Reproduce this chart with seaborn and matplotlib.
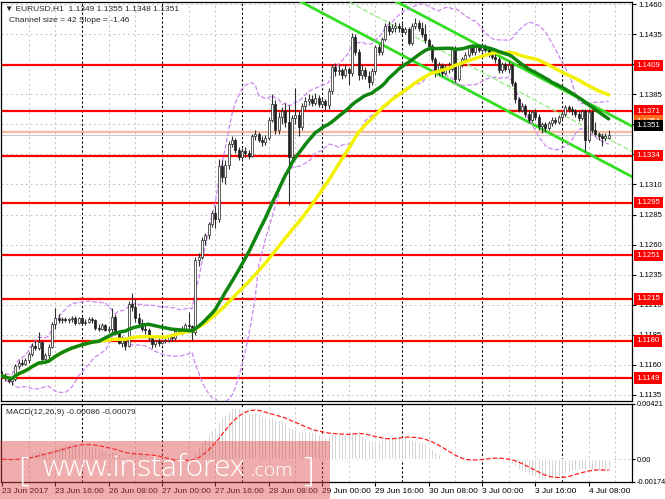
import numpy as np
import pandas as pd
import matplotlib
matplotlib.use("Agg")
import matplotlib.pyplot as plt
import matplotlib.transforms as mtransforms
from matplotlib.patches import Rectangle
import seaborn as sns

# ==== EURUSD H1 bars (23 Jun 2017 00:00 .. 4 Jul 2017 14:00) ====
opens = [
    1.1152, 1.1151, 1.1149, 1.1147, 1.1148, 1.1159, 1.1162, 1.1161, 1.1164, 1.1169,
    1.1176, 1.1174, 1.1179, 1.1165, 1.1168, 1.1175, 1.1194, 1.1199, 1.1197, 1.1198,
    1.1197, 1.1198, 1.1199, 1.1195, 1.1199, 1.1195, 1.1196, 1.1198, 1.1197, 1.1191,
    1.1190, 1.1193, 1.1189, 1.1190, 1.1200, 1.1187, 1.1178, 1.1182, 1.1176, 1.1211,
    1.1208, 1.1199, 1.1195, 1.1190, 1.1189, 1.1182, 1.1177, 1.1180, 1.1178, 1.1180,
    1.1181, 1.1183, 1.1182, 1.1188, 1.1189, 1.1190, 1.1193, 1.1192, 1.1187, 1.1247,
    1.1250, 1.1264, 1.1268, 1.1277, 1.1286, 1.1281, 1.1325, 1.1316, 1.1326, 1.1344,
    1.1347, 1.1339, 1.1333, 1.1338, 1.1336, 1.1334, 1.1350, 1.1352, 1.1347, 1.1345,
    1.1349, 1.1364, 1.1377, 1.1355, 1.1366, 1.1371, 1.1362, 1.1333, 1.1365, 1.1368,
    1.1358, 1.1375, 1.1379, 1.1381, 1.1378, 1.1382, 1.1377, 1.1379, 1.1376, 1.1388,
    1.1408, 1.1404, 1.1405, 1.1401, 1.1406, 1.1403, 1.1433, 1.1420, 1.1401, 1.1405,
    1.1400, 1.1395, 1.1404, 1.1424, 1.1420, 1.1431, 1.1442, 1.1438, 1.1440, 1.1442,
    1.1440, 1.1437, 1.1439, 1.1428, 1.1442, 1.1444, 1.1440, 1.1435, 1.1430, 1.1425,
    1.1414, 1.1404, 1.1409, 1.1403, 1.1408, 1.1406, 1.1423, 1.1398, 1.1410, 1.1414,
    1.1418, 1.1424, 1.1420, 1.1424, 1.1422, 1.1425, 1.1422, 1.1418, 1.1416, 1.1414,
    1.1405, 1.1410, 1.1406, 1.1409, 1.1394, 1.1381, 1.1372, 1.1375, 1.1369, 1.1364,
    1.1370, 1.1366, 1.1359, 1.1360, 1.1357, 1.1361, 1.1364, 1.1362, 1.1366, 1.1369,
    1.1374, 1.1373, 1.1371, 1.1369, 1.1365, 1.1371, 1.1347, 1.1370, 1.1355, 1.1352,
    1.1350, 1.1349, 1.1349,
]
highs = [
    1.1155, 1.1153, 1.1151, 1.1150, 1.1161, 1.1164, 1.1165, 1.1166, 1.1171, 1.1178,
    1.1181, 1.1187, 1.1180, 1.1170, 1.1177, 1.1196, 1.1207, 1.1202, 1.1200, 1.1200,
    1.1199, 1.1201, 1.1201, 1.1200, 1.1201, 1.1198, 1.1200, 1.1200, 1.1198, 1.1194,
    1.1195, 1.1194, 1.1192, 1.1207, 1.1202, 1.1189, 1.1184, 1.1183, 1.1213, 1.1220,
    1.1215, 1.1203, 1.1198, 1.1193, 1.1191, 1.1184, 1.1181, 1.1182, 1.1181, 1.1183,
    1.1184, 1.1185, 1.1190, 1.1191, 1.1192, 1.1195, 1.1204, 1.1193, 1.1250, 1.1253,
    1.1266, 1.1270, 1.1279, 1.1288, 1.1292, 1.1331, 1.1330, 1.1330, 1.1346, 1.1350,
    1.1349, 1.1341, 1.1340, 1.1341, 1.1339, 1.1352, 1.1355, 1.1354, 1.1350, 1.1351,
    1.1366, 1.1385, 1.1380, 1.1370, 1.1374, 1.1378, 1.1376, 1.1368, 1.1390, 1.1371,
    1.1378, 1.1383, 1.1385, 1.1384, 1.1386, 1.1384, 1.1382, 1.1381, 1.1390, 1.1410,
    1.1411, 1.1409, 1.1407, 1.1409, 1.1408, 1.1436, 1.1435, 1.1423, 1.1409, 1.1408,
    1.1404, 1.1407, 1.1426, 1.1427, 1.1433, 1.1444, 1.1446, 1.1443, 1.1445, 1.1444,
    1.1444, 1.1441, 1.1441, 1.1444, 1.1448, 1.1447, 1.1445, 1.1443, 1.1432, 1.1427,
    1.1416, 1.1412, 1.1411, 1.1410, 1.1412, 1.1425, 1.1425, 1.1412, 1.1416, 1.1420,
    1.1426, 1.1427, 1.1426, 1.1426, 1.1428, 1.1427, 1.1424, 1.1421, 1.1419, 1.1416,
    1.1412, 1.1412, 1.1413, 1.1411, 1.1396, 1.1383, 1.1378, 1.1377, 1.1372, 1.1372,
    1.1373, 1.1369, 1.1362, 1.1362, 1.1363, 1.1366, 1.1366, 1.1368, 1.1371, 1.1376,
    1.1376, 1.1375, 1.1373, 1.1371, 1.1373, 1.1373, 1.1373, 1.1372, 1.1362, 1.1354,
    1.1353, 1.1353, 1.1355,
]
lows = [
    1.1149, 1.1147, 1.1145, 1.1143, 1.1147, 1.1157, 1.1159, 1.1160, 1.1162, 1.1167,
    1.1172, 1.1172, 1.1163, 1.1162, 1.1166, 1.1174, 1.1190, 1.1195, 1.1195, 1.1196,
    1.1195, 1.1196, 1.1193, 1.1194, 1.1193, 1.1193, 1.1195, 1.1195, 1.1189, 1.1188,
    1.1189, 1.1188, 1.1187, 1.1187, 1.1185, 1.1177, 1.1175, 1.1172, 1.1175, 1.1205,
    1.1196, 1.1193, 1.1188, 1.1186, 1.1180, 1.1174, 1.1175, 1.1176, 1.1177, 1.1178,
    1.1179, 1.1180, 1.1181, 1.1186, 1.1186, 1.1188, 1.1190, 1.1181, 1.1185, 1.1242,
    1.1248, 1.1260, 1.1265, 1.1275, 1.1274, 1.1279, 1.1312, 1.1310, 1.1323, 1.1341,
    1.1336, 1.1330, 1.1331, 1.1333, 1.1331, 1.1333, 1.1347, 1.1345, 1.1342, 1.1343,
    1.1347, 1.1362, 1.1352, 1.1352, 1.1360, 1.1358, 1.1293, 1.1328, 1.1360, 1.1350,
    1.1355, 1.1372, 1.1376, 1.1375, 1.1376, 1.1374, 1.1375, 1.1372, 1.1373, 1.1385,
    1.1400, 1.1401, 1.1398, 1.1399, 1.1393, 1.1400, 1.1418, 1.1397, 1.1398, 1.1398,
    1.1390, 1.1393, 1.1402, 1.1418, 1.1418, 1.1429, 1.1434, 1.1436, 1.1437, 1.1437,
    1.1435, 1.1435, 1.1426, 1.1426, 1.1439, 1.1438, 1.1433, 1.1428, 1.1423, 1.1412,
    1.1399, 1.1401, 1.1400, 1.1401, 1.1403, 1.1404, 1.1395, 1.1396, 1.1408, 1.1412,
    1.1416, 1.1418, 1.1418, 1.1420, 1.1420, 1.1420, 1.1416, 1.1414, 1.1411, 1.1403,
    1.1403, 1.1404, 1.1403, 1.1392, 1.1378, 1.1370, 1.1370, 1.1366, 1.1361, 1.1362,
    1.1364, 1.1355, 1.1353, 1.1354, 1.1355, 1.1359, 1.1360, 1.1360, 1.1364, 1.1367,
    1.1370, 1.1368, 1.1366, 1.1363, 1.1364, 1.1338, 1.1345, 1.1353, 1.1350, 1.1347,
    1.1342, 1.1346, 1.1348,
]
closes = [
    1.1151, 1.1149, 1.1147, 1.1148, 1.1159, 1.1162, 1.1161, 1.1164, 1.1169, 1.1176,
    1.1174, 1.1179, 1.1165, 1.1168, 1.1175, 1.1194, 1.1199, 1.1197, 1.1198, 1.1197,
    1.1198, 1.1199, 1.1195, 1.1199, 1.1195, 1.1196, 1.1198, 1.1197, 1.1191, 1.1190,
    1.1193, 1.1189, 1.1190, 1.1200, 1.1187, 1.1178, 1.1182, 1.1176, 1.1211, 1.1208,
    1.1199, 1.1195, 1.1190, 1.1189, 1.1182, 1.1177, 1.1180, 1.1178, 1.1180, 1.1181,
    1.1183, 1.1182, 1.1188, 1.1189, 1.1190, 1.1193, 1.1192, 1.1187, 1.1247, 1.1250,
    1.1264, 1.1268, 1.1277, 1.1286, 1.1281, 1.1325, 1.1316, 1.1326, 1.1344, 1.1347,
    1.1339, 1.1333, 1.1338, 1.1336, 1.1334, 1.1350, 1.1352, 1.1347, 1.1345, 1.1349,
    1.1364, 1.1377, 1.1355, 1.1366, 1.1371, 1.1362, 1.1333, 1.1365, 1.1368, 1.1358,
    1.1375, 1.1379, 1.1381, 1.1378, 1.1382, 1.1377, 1.1379, 1.1376, 1.1388, 1.1408,
    1.1404, 1.1405, 1.1401, 1.1406, 1.1403, 1.1433, 1.1420, 1.1401, 1.1405, 1.1400,
    1.1395, 1.1404, 1.1424, 1.1420, 1.1431, 1.1442, 1.1438, 1.1440, 1.1442, 1.1440,
    1.1437, 1.1439, 1.1428, 1.1442, 1.1444, 1.1440, 1.1435, 1.1430, 1.1425, 1.1414,
    1.1404, 1.1409, 1.1403, 1.1408, 1.1406, 1.1423, 1.1398, 1.1410, 1.1414, 1.1418,
    1.1424, 1.1420, 1.1424, 1.1422, 1.1425, 1.1422, 1.1418, 1.1416, 1.1414, 1.1405,
    1.1410, 1.1406, 1.1409, 1.1394, 1.1381, 1.1372, 1.1375, 1.1369, 1.1364, 1.1370,
    1.1366, 1.1359, 1.1360, 1.1357, 1.1361, 1.1364, 1.1362, 1.1366, 1.1369, 1.1374,
    1.1373, 1.1371, 1.1369, 1.1365, 1.1371, 1.1347, 1.1370, 1.1355, 1.1352, 1.1350,
    1.1349, 1.1350, 1.1351,
]

date_ticks = [0, 16, 32, 48, 64, 80, 96, 112, 128, 144, 160, 176]
date_labels = ["23 Jun 2017", "23 Jun 16:00", "26 Jun 08:00", "27 Jun 00:00",
               "27 Jun 16:00", "28 Jun 08:00", "29 Jun 00:00", "29 Jun 16:00",
               "30 Jun 08:00", "3 Jul 00:00", "3 Jul 16:00", "4 Jul 08:00"]
price_ticks = [1.1135, 1.1160, 1.1185, 1.1210, 1.1235, 1.1260, 1.1285,
               1.1310, 1.1335, 1.1360, 1.1385, 1.1410, 1.1435, 1.1460]
hidden_ticks = [1.1335, 1.1360, 1.1410]   # covered by the level boxes
levels = [1.1409, 1.1371, 1.1334, 1.1295, 1.1251, 1.1215, 1.1180, 1.1149]
bid, ask = 1.1351, 1.1354

# regression channel (bar index, price) end points
channel_x = [80, 190]
channel_upper = [1.15181, 1.13570]
channel_mid = [1.14971, 1.13360]
channel_lower = [1.14761, 1.13150]

macd_ticks = [-0.00174, 0.0, 0.00421]
macd_labels = ["-0.00174", "0.00", "0.00421"]

# ==== indicators ====
df = pd.DataFrame({"o": opens, "h": highs, "l": lows, "c": closes})
df["i"] = np.arange(len(df))
df["ma30"] = df["c"].rolling(30, min_periods=1).mean()
df["ma50"] = df["c"].rolling(50, min_periods=1).mean()
mid = df["c"].rolling(20, min_periods=2).mean()
sd = df["c"].rolling(20, min_periods=2).std(ddof=0)
df["bb_up"] = mid + 2 * sd
df["bb_lo"] = mid - 2 * sd
ema12 = df["c"].ewm(span=12, adjust=False).mean()
ema26 = df["c"].ewm(span=26, adjust=False).mean()
df["macd"] = ema12 - ema26
df["signal"] = df["macd"].rolling(9, min_periods=1).mean()

# ==== figure ====
sns.set_theme(style="white")
plt.rcParams["font.family"] = ["Liberation Sans", "DejaVu Sans"]
W, H = 665, 499
fig = plt.figure(figsize=(W / 100, H / 100), dpi=100)
ax = fig.add_axes([1 / W, 1 - 401 / H, 631 / W, 399 / H])
ax2 = fig.add_axes([1 / W, 1 - 482 / H, 631 / W, 78 / H])

XMIN, XMAX = -0.3, 189
for a in (ax, ax2):
    a.set_xlim(XMIN, XMAX)
    a.set_facecolor("white")
    for s in a.spines.values():
        s.set_color("black")
        s.set_linewidth(0.9)
    for k in range(8, 190, 8):
        if k % 24 == 0:
            a.axvline(k, color="black", lw=0.8, ls=(0, (2, 2)), zorder=1)
        else:
            a.axvline(k, color="#c4c4c4", lw=0.7, ls=(0, (2, 3)), zorder=0.5)

ax.set_ylim(1.11300, 1.14617)
for p in price_ticks:
    ax.axhline(p, color="#c4c4c4", lw=0.7, ls=(0, (2, 3)), zorder=0.5)

# support / resistance levels
for lv in levels:
    ax.axhline(lv, color="#ff0000", lw=1.6, zorder=2)
ax.axhline(ask, color="#f7b8a0", lw=1.6, zorder=2)
ax.axhline(bid, color="#c8c8c8", lw=0.8, zorder=2)

# channel
sns.lineplot(x=channel_x, y=channel_upper, ax=ax, color="#33dd22", lw=2, zorder=3)
sns.lineplot(x=channel_x, y=channel_lower, ax=ax, color="#33dd22", lw=2, zorder=3)
sns.lineplot(x=channel_x, y=channel_mid, ax=ax, color="#99ee88", lw=1, linestyle="--", zorder=3)

# bollinger bands
sns.lineplot(data=df, x="i", y="bb_up", ax=ax, color="#cc88ee", lw=0.9, linestyle="--", zorder=3)
sns.lineplot(data=df, x="i", y="bb_lo", ax=ax, color="#cc88ee", lw=0.9, linestyle="--", zorder=3)

# candles
up = df["c"] >= df["o"]
ax.vlines(df["i"], df["l"], df["h"], color="#303030", lw=0.8, zorder=4)
body = (df["c"] - df["o"]).abs().clip(lower=0.00004)
ax.bar(df["i"], body, bottom=df[["o", "c"]].min(axis=1), width=0.6,
       color=np.where(up, "white", "#202020"), edgecolor="#202020", lw=0.5, zorder=5)

# moving averages
sns.lineplot(data=df, x="i", y="ma50", ax=ax, color="#f2f200", lw=2.5, zorder=6)
sns.lineplot(data=df, x="i", y="ma30", ax=ax, color="#0f850f", lw=2.5, zorder=6)

ax.set_xlabel("")
ax.set_ylabel("")
ax.set_xticks([])
ax.yaxis.tick_right()
ax.set_yticks(price_ticks)
ax.set_yticklabels(["" if p in hidden_ticks else f"{p:.4f}" for p in price_ticks])
ax.tick_params(axis="y", right=True, left=False, length=3, width=0.8, pad=1.5,
               labelsize=5.6, colors="black")

tr = mtransforms.blended_transform_factory(ax.transAxes, ax.transData)
ax.text(1.01, 1.13678, "1.1360", transform=tr, fontsize=5.6, va="center", ha="left", clip_on=False)
for lv in levels:
    ax.text(1.007, lv, f"{lv:.4f}", transform=tr, fontsize=5.6, color="white", va="center",
            ha="left", clip_on=False, zorder=10,
            bbox=dict(boxstyle="square,pad=0.3", fc="#ff0000", ec="none"))
ax.text(1.007, 1.13627, f"{ask:.4f}", transform=tr, fontsize=5.6, color="white", va="center",
        ha="left", clip_on=False, zorder=10,
        bbox=dict(boxstyle="square,pad=0.3", fc="#ff6a1a", ec="none"))
ax.text(1.007, 1.13590, f"{bid:.4f}", transform=tr, fontsize=5.6, color="white", va="center",
        ha="left", clip_on=False, zorder=11,
        bbox=dict(boxstyle="square,pad=0.3", fc="black", ec="none"))

ax.text(0.006, 0.992, "\u25BC EURUSD,H1  1.1349 1.1355 1.1348 1.1351", transform=ax.transAxes,
        fontsize=6, va="top", ha="left")
ax.text(0.012, 0.962, "Channel size = 42 Slope = -1.46", transform=ax.transAxes,
        fontsize=6, va="top", ha="left")

# ==== MACD ====
ax2.set_ylim(-0.00174, 0.00421)
ax2.axhline(0, color="#c4c4c4", lw=0.7, ls=(0, (2, 3)), zorder=0.5)
ax2.bar(df["i"], df["macd"], width=0.62, color="#b9b9b9", zorder=2)
sns.lineplot(data=df, x="i", y="signal", ax=ax2, color="#ff2020", lw=0.9, linestyle="--", zorder=3)
ax2.set_xlabel("")
ax2.set_ylabel("")
ax2.yaxis.tick_right()
ax2.set_yticks(macd_ticks)
ax2.set_yticklabels(macd_labels)
ax2.tick_params(axis="y", right=True, left=False, length=2.5, width=0.8, pad=0.8,
                labelsize=5.3, colors="black")
ax2.set_xticks(date_ticks)
ax2.set_xticklabels(date_labels, ha="left")
ax2.tick_params(axis="x", bottom=True, length=3, width=0.8, pad=1.5, labelsize=6, colors="black")
ax2.text(0.008, 0.93, "MACD(12,26,9) -0.00086 -0.00079", transform=ax2.transAxes,
         fontsize=6, va="top", ha="left")

# ==== watermark ====
fig.add_artist(Rectangle((0, 0), 330 / W, 58 / H, transform=fig.transFigure,
                         fc="#dc4a4a", ec="none", alpha=0.45, zorder=20))
wm = dict(color="white", transform=fig.transFigure, zorder=21, va="baseline",
          family=["Open Sans", "DejaVu Sans"], fontweight="light")
fig.text(18 / W, 1 - 481 / H, "[", fontsize=24, **wm)
fig.text(43 / W, 1 - 476 / H, "www.instaforex", fontsize=21.5, **wm)
fig.text(250 / W, 1 - 476 / H, ".com", fontsize=14, **wm)
fig.text(303 / W, 1 - 481 / H, "]", fontsize=24, **wm)

fig.savefig("out.png", dpi=100)
